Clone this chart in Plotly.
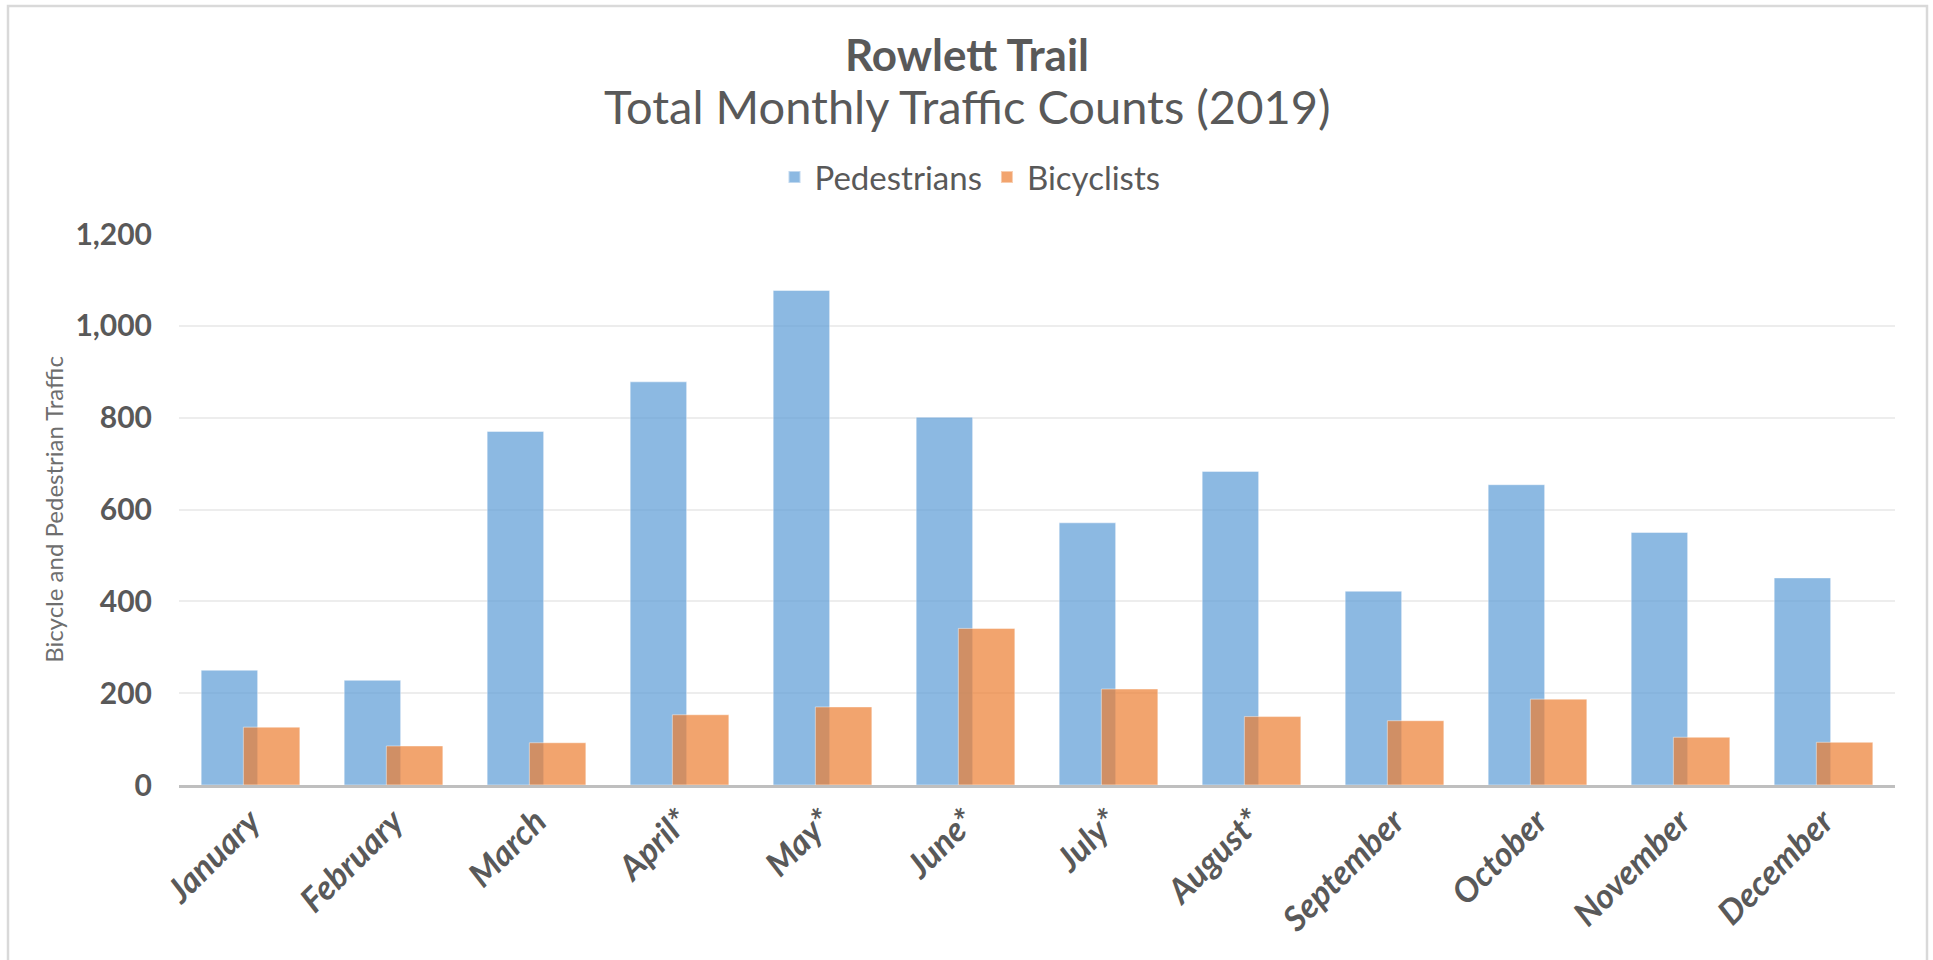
import plotly.graph_objects as go

# Monthly counts on the Rowlett Trail, 2019
months = ["January", "February", "March", "April*", "May*", "June*",
          "July*", "August*", "September", "October", "November", "December"]
pedestrians = [250, 228, 770, 878, 1077, 801, 571, 683, 422, 654, 550, 451]
bicyclists = [126, 85, 92, 153, 170, 341, 209, 149, 140, 187, 104, 93]

y_ticks = [0, 200, 400, 600, 800, 1000, 1200]

W, H = 1933, 960
ML, MR, MT, MB = 179, 38, 234, 175
plot_h = H - MT - MB
plot_w = W - ML - MR

FONT = "Lato"
TXT = "#595959"

BLUE = "rgba(91,155,213,0.70)"
ORANGE = "rgba(237,125,49,0.70)"
BAR_W = 0.395


def py(px):
    """Convert a pixel row (from top of page) to paper y."""
    return (H - MB - px) / plot_h


def px_x(px):
    """Convert a pixel column to paper x."""
    return (px - ML) / plot_w


fig = go.Figure()
fig.add_trace(go.Bar(
    name="Pedestrians", x=months, y=pedestrians,
    width=BAR_W, offset=-0.345,
    marker=dict(color=BLUE, line=dict(color="rgba(255,255,255,0.45)", width=1)),
))
fig.add_trace(go.Bar(
    name="Bicyclists", x=months, y=bicyclists,
    width=BAR_W, offset=-0.05,
    marker=dict(color=ORANGE, line=dict(color="rgba(255,255,255,0.45)", width=1)),
))

fig.update_layout(
    width=W, height=H,
    margin=dict(l=ML, r=MR, t=MT, b=MB, pad=0),
    paper_bgcolor="white", plot_bgcolor="white",
    barmode="overlay",
    font=dict(family=FONT, color=TXT),
    showlegend=True,
    legend=dict(
        orientation="h", x=px_x(970), y=py(177),
        xanchor="center", yanchor="middle",
        font=dict(family=FONT, size=33, color=TXT),
        itemsizing="constant", traceorder="normal",
        itemwidth=30,
    ),
    xaxis=dict(
        type="category",
        showgrid=False, zeroline=False,
        showline=True, linecolor="#BFBFBF", linewidth=3,
        ticks="", tickangle=-45,
        tickfont=dict(family=FONT, size=34, color=TXT, weight="bold", style="italic"),
        range=[-0.5, 11.5],
    ),
    yaxis=dict(
        range=[0, 1200], tickvals=y_ticks, tickformat=",",
        showgrid=True, gridcolor="#EDEDED", gridwidth=1.5,
        zeroline=False, showline=False, ticks="",
        ticklabelstandoff=26,
        tickfont=dict(family=FONT, size=30, color=TXT, weight="bold"),
        title=dict(text="Bicycle and Pedestrian Traffic",
                   font=dict(family=FONT, size=24, color="#6E6E6E"),
                   standoff=4),
    ),
    annotations=[
        dict(text="Rowlett Trail", xref="paper", yref="paper",
             x=px_x(W / 2), y=py(54), xanchor="center", yanchor="middle",
             showarrow=False,
             font=dict(family=FONT, size=44, color=TXT, weight="bold")),
        dict(text="Total Monthly Traffic Counts (2019)", xref="paper", yref="paper",
             x=px_x(W / 2), y=py(106), xanchor="center", yanchor="middle",
             showarrow=False,
             font=dict(family=FONT, size=47, color=TXT)),
    ],
    shapes=[
        dict(type="rect", xref="paper", yref="paper", layer="below",
             x0=px_x(8), x1=px_x(1927), y0=py(H + 20), y1=py(6),
             line=dict(color="#D9D9D9", width=2.5), fillcolor="rgba(0,0,0,0)"),
    ],
)

fig.write_html("out.html")
